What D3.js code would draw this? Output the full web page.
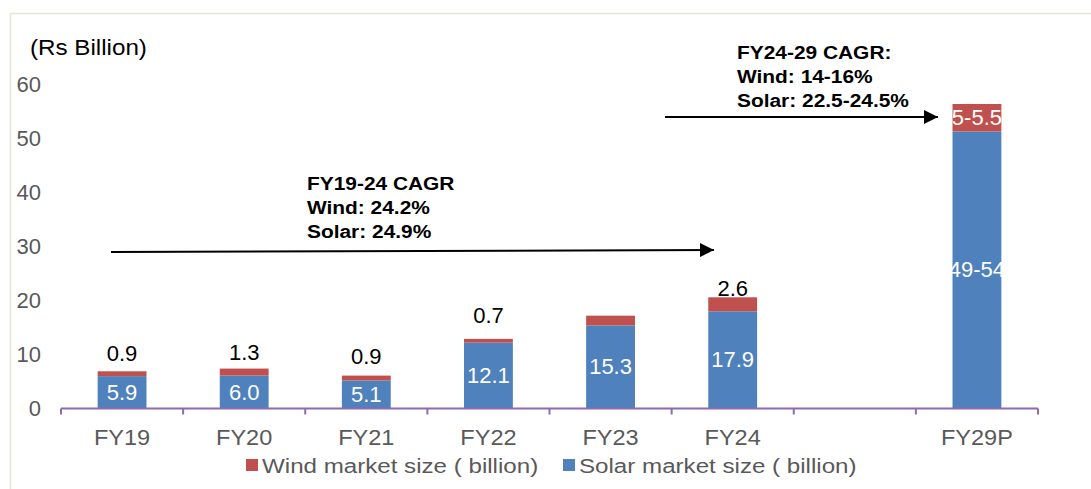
<!DOCTYPE html>
<html>
<head>
<meta charset="utf-8">
<script src="https://cdn.jsdelivr.net/npm/d3@7"></script>
<style>
  body { margin: 0; background: #fff; }
  svg { display: block; font-family: "Liberation Sans", Arial, sans-serif; }
</style>
</head>
<body>
<div id="chart"></div>
<script>
const WIDTH = 1091, HEIGHT = 489;
const MARGINS = {top: 84, bottom: 81, left: 61, right: 53};

// chart data
const slots = ["FY19", "FY20", "FY21", "FY22", "FY23", "FY24", "", "FY29P"];
const categories = ["FY19", "FY20", "FY21", "FY22", "FY23", "FY24", "FY29P"];
const solar = [5.9, 6.0, 5.1, 12.1, 15.3, 17.9, 51.2];
const wind = [0.9, 1.3, 0.9, 0.7, 1.8, 2.6, 5.1];
const solarLabels = ["5.9", "6.0", "5.1", "12.1", "15.3", "17.9", "49-54"];
const windLabels = ["0.9", "1.3", "0.9", "0.7", "", "2.6", "5-5.5"];
const yTicks = [0, 10, 20, 30, 40, 50, 60];
const seriesNames = ["Wind market size ( billion)", "Solar market size ( billion)"];
const cagrNotes = [
  ["FY19-24 CAGR", "Wind: 24.2%", "Solar: 24.9%"],
  ["FY24-29 CAGR:", "Wind: 14-16%", "Solar: 22.5-24.5%"]
];

const BLUE = "#4f81bd", RED = "#c0504d", AXIS = "#8c6bb1";
// how far above the bar each outside wind label sits (px)
const windLift = [18, 16, 19, 24, 0, 9];

// the source text is a bit wider than Liberation Sans, stretch it sideways
function stretch(sel, s) {
  sel.each(function() {
    const t = d3.select(this);
    const x0 = +t.attr('x');
    t.attr('transform', `translate(${x0},0) scale(${s},1) translate(${-x0},0)`);
  });
}

const svg = d3.select('#chart').append('svg')
  .attr('width', WIDTH).attr('height', HEIGHT);

// faint frame on left / top
svg.append('path')
  .attr('d', `M10.5,${HEIGHT} V13.5 H${WIDTH}`)
  .attr('fill', 'none').attr('stroke', '#e6e4d4').attr('stroke-width', 1.5);

const x = d3.scaleBand()
  .domain(slots.map((d, i) => i))
  .range([MARGINS.left, WIDTH - MARGINS.right])
  .padding(0);
const y = d3.scaleLinear()
  .domain([0, 60])
  .range([HEIGHT - MARGINS.bottom, MARGINS.top]);

const barW = x.bandwidth() * 0.4;
const slotOf = c => slots.indexOf(c);
const cx = c => x(slotOf(c)) + x.bandwidth() / 2;

const rows = categories.map((c, i) => ({
  c: c, solar: solar[i], wind: wind[i],
  sLab: solarLabels[i], wLab: windLabels[i], i: i
}));

// y tick labels
svg.selectAll('.ytick')
  .data(yTicks)
  .enter().append('text')
  .attr('x', 41)
  .attr('y', d => y(d))
  .attr('dy', '0.35em')
  .attr('text-anchor', 'end')
  .attr('font-size', 22)
  .attr('fill', '#595959')
  .text(d => d);

svg.append('text')
  .attr('x', 30).attr('y', 47).attr('dy', '0.35em')
  .attr('font-size', 22).attr('fill', '#000')
  .text('(Rs Billion)')
  .call(stretch, 1.1);

// bars
const bars = svg.selectAll('.bar').data(rows).enter().append('g');
bars.append('rect')
  .attr('x', d => cx(d.c) - barW / 2)
  .attr('y', d => y(d.solar))
  .attr('width', barW)
  .attr('height', d => y(0) - y(d.solar))
  .attr('fill', BLUE);
bars.append('rect')
  .attr('x', d => cx(d.c) - barW / 2)
  .attr('y', d => y(d.solar + d.wind))
  .attr('width', barW)
  .attr('height', d => y(d.solar) - y(d.solar + d.wind))
  .attr('fill', RED);

// solar labels inside
bars.append('text')
  .attr('x', d => cx(d.c))
  .attr('y', d => (y(0) + y(d.solar)) / 2)
  .attr('dy', '0.35em')
  .attr('text-anchor', 'middle')
  .attr('font-size', 22)
  .attr('fill', '#fff')
  .text(d => d.sLab);

// wind labels: above the bar, except the last one sits inside
bars.append('text')
  .attr('x', d => cx(d.c))
  .attr('y', d => d.c === 'FY29P'
    ? (y(d.solar) + y(d.solar + d.wind)) / 2
    : y(d.solar + d.wind) - windLift[d.i])
  .attr('dy', '0.35em')
  .attr('text-anchor', 'middle')
  .attr('font-size', 22)
  .attr('fill', d => d.c === 'FY29P' ? '#fff' : '#000')
  .text(d => d.wLab);

// x axis line and ticks at slot boundaries
const axisY = y(0) + 0.5;
svg.append('line')
  .attr('x1', x.range()[0]).attr('x2', x.range()[1])
  .attr('y1', axisY).attr('y2', axisY)
  .attr('stroke', AXIS).attr('stroke-width', 2);
const bounds = slots.map((d, i) => x(i)).concat([x.range()[1]]);
svg.selectAll('.xtick').data(bounds).enter().append('line')
  .attr('x1', d => d).attr('x2', d => d)
  .attr('y1', axisY).attr('y2', axisY + 6)
  .attr('stroke', AXIS).attr('stroke-width', 2);

svg.selectAll('.xlab').data(slots).enter().append('text')
  .attr('x', (d, i) => x(i) + x.bandwidth() / 2)
  .attr('y', 437)
  .attr('dy', '0.35em')
  .attr('text-anchor', 'middle')
  .attr('font-size', 22)
  .attr('fill', '#595959')
  .text(d => d)
  .call(stretch, 1.07);

// legend
const legend = svg.append('g');
const legItems = [
  {name: seriesNames[0], color: RED, x: 246},
  {name: seriesNames[1], color: BLUE, x: 563}
];
legItems.forEach(l => {
  legend.append('rect')
    .attr('x', l.x).attr('y', 459).attr('width', 12).attr('height', 12)
    .attr('fill', l.color);
  legend.append('text')
    .attr('x', l.x + 16).attr('y', 466).attr('dy', '0.35em')
    .attr('font-size', 21).attr('fill', '#595959')
    .text(l.name)
    .call(stretch, 1.15);
});

// CAGR arrows and notes
svg.append('defs').append('marker')
  .attr('id', 'head')
  .attr('viewBox', '0 0 10 10')
  .attr('refX', 10).attr('refY', 5)
  .attr('markerWidth', 8).attr('markerHeight', 7)
  .attr('markerUnits', 'strokeWidth')
  .attr('orient', 'auto')
  .append('path').attr('d', 'M0,0 L10,5 L0,10 Z').attr('fill', '#000');

svg.append('line')
  .attr('x1', 111).attr('y1', 252).attr('x2', 714).attr('y2', 250)
  .attr('stroke', '#000').attr('stroke-width', 2)
  .attr('marker-end', 'url(#head)');
svg.append('line')
  .attr('x1', 665).attr('y1', 117).attr('x2', 938).attr('y2', 117)
  .attr('stroke', '#000').attr('stroke-width', 2)
  .attr('marker-end', 'url(#head)');

const notePos = [{x: 307, y: 183}, {x: 737, y: 52}];
cagrNotes.forEach((lines, k) => {
  svg.append('g').selectAll('text').data(lines).enter().append('text')
    .attr('x', notePos[k].x)
    .attr('y', (d, i) => notePos[k].y + i * 24)
    .attr('dy', '0.35em')
    .attr('font-size', 19)
    .attr('font-weight', 'bold')
    .attr('fill', '#000')
    .text(d => d)
    .call(stretch, 1.1);
});
</script>
</body>
</html>
